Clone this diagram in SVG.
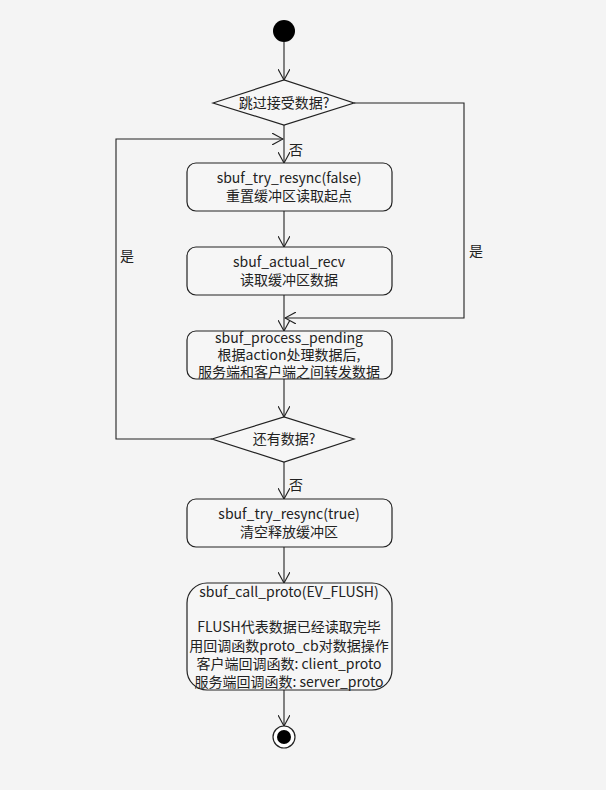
<svg xmlns="http://www.w3.org/2000/svg" width="606" height="790" viewBox="0 0 606 790">
<defs>
<style>
.bg{fill:#f4f4f4}
.node{fill:#f6f6f6;stroke:#222;stroke-width:1.2}
.ln{fill:none;stroke:#222;stroke-width:1.1}
text{font-family:"Noto Sans CJK SC","Noto Sans",sans-serif;font-size:14px;fill:#222;text-anchor:middle}
.lbl{text-anchor:start}
</style>
<marker id="ah" viewBox="0 0 12 12" refX="11" refY="6" markerWidth="12" markerHeight="12" markerUnits="userSpaceOnUse" orient="auto">
<path d="M0,0 L11,6 L0,12" fill="none" stroke="#222" stroke-width="1.1"/>
</marker>
</defs>
<rect class="bg" x="0" y="0" width="606" height="790"/>
<g id="connectors">
<line class="ln" x1="284" y1="42" x2="284" y2="80" marker-end="url(#ah)"/>
<line class="ln" x1="284" y1="125" x2="284" y2="163" marker-end="url(#ah)"/>
<polyline class="ln" points="354,103 464,103 464,318 285,318" marker-end="url(#ah)"/>
<polyline class="ln" points="212,439 116,439 116,139 283,139" marker-end="url(#ah)"/>
<line class="ln" x1="284" y1="211" x2="284" y2="247" marker-end="url(#ah)"/>
<line class="ln" x1="284" y1="295" x2="284" y2="331" marker-end="url(#ah)"/>
<line class="ln" x1="284" y1="379" x2="284" y2="417" marker-end="url(#ah)"/>
<line class="ln" x1="284" y1="462" x2="284" y2="499" marker-end="url(#ah)"/>
<line class="ln" x1="284" y1="547" x2="284" y2="583" marker-end="url(#ah)"/>
<line class="ln" x1="284" y1="690" x2="284" y2="726" marker-end="url(#ah)"/>
<text class="lbl" x="289" y="155">否</text>
<text class="lbl" x="289" y="490">否</text>
<text class="lbl" x="120" y="261">是</text>
<text class="lbl" x="469" y="256">是</text>
</g>
<g id="start"><circle cx="284" cy="31" r="11" fill="#000"/></g>
<g id="d1"><polygon class="node" points="213,103 284,80 354,103 284,125"/><text x="284" y="108">跳过接受数据?</text></g>
<g id="b1"><rect class="node" x="187" y="163" width="205" height="48" rx="9"/><text x="289" y="183">sbuf_try_resync(false)</text><text x="289" y="201">重置缓冲区读取起点</text></g>
<g id="b2"><rect class="node" x="187" y="247" width="205" height="48" rx="9"/><text x="289" y="267">sbuf_actual_recv</text><text x="289" y="285">读取缓冲区数据</text></g>
<g id="b3"><rect class="node" x="187" y="331" width="205" height="48" rx="9"/><text x="289" y="343">sbuf_process_pending</text><text x="289" y="360">根据action处理数据后,</text><text x="289" y="377">服务端和客户端之间转发数据</text></g>
<g id="d2"><polygon class="node" points="212,439 284,417 354,439 284,462"/><text x="284" y="444">还有数据?</text></g>
<g id="b4"><rect class="node" x="187" y="499" width="205" height="48" rx="9"/><text x="289" y="519">sbuf_try_resync(true)</text><text x="289" y="537">清空释放缓冲区</text></g>
<g id="b5"><rect class="node" x="187" y="583" width="205" height="107" rx="20"/><text x="289" y="597">sbuf_call_proto(EV_FLUSH)</text><text x="289" y="632">FLUSH代表数据已经读取完毕</text><text x="289" y="651">用回调函数proto_cb对数据操作</text><text x="289" y="669">客户端回调函数: client_proto</text><text x="289" y="687">服务端回调函数: server_proto</text></g>
<g id="end"><circle cx="284" cy="737" r="11" fill="#fff" stroke="#222" stroke-width="1.2"/><circle cx="284" cy="737" r="7" fill="#000"/></g>
</svg>
